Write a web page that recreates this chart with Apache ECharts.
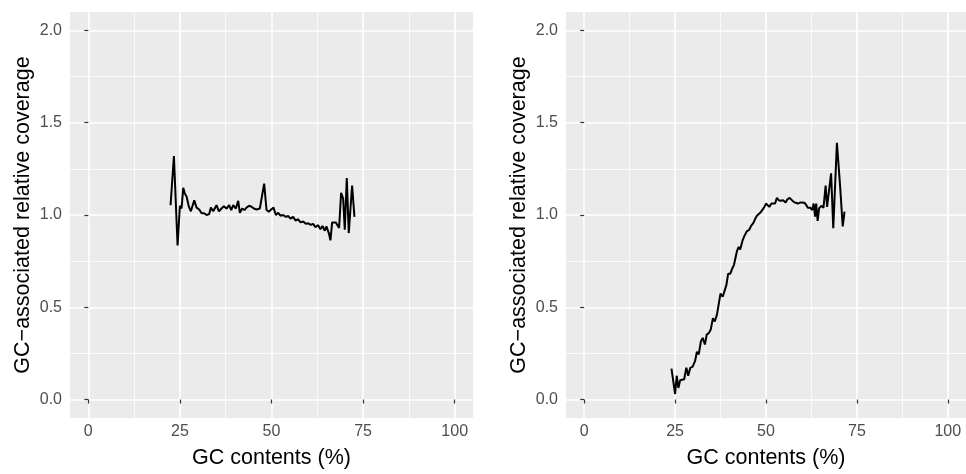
<!DOCTYPE html>
<html>
<head>
<meta charset="utf-8">
<script src="https://cdn.jsdelivr.net/npm/echarts@6/dist/echarts.min.js"></script>
<style>
html,body{margin:0;padding:0;background:#fff;}
#chart{width:966px;height:474px;}
</style>
</head>
<body>
<div id="chart"></div>
<script>
// ---- data ----
const xTicks = [0, 25, 50, 75, 100];
const xMinorTicks = [12.5, 37.5, 62.5, 87.5];
const yTicks = [0, 0.5, 1.0, 1.5, 2.0];
const yMinorTicks = [0.25, 0.75, 1.25, 1.75];

const leftGC = [22.45,23.36,24.36,25.0,25.45,25.91,26.36,26.82,27.45,28.0,28.91,29.55,30.27,30.91,31.55,32.27,33.0,33.45,34.09,35.0,35.64,36.36,37.0,37.73,38.45,39.0,39.55,40.27,40.91,41.36,42.0,42.64,43.18,43.91,44.55,45.18,45.91,46.82,47.36,48.0,48.64,49.27,49.91,50.55,51.18,51.82,52.45,53.18,53.91,54.55,55.18,55.91,56.55,57.27,57.91,58.64,59.36,60.0,60.73,61.36,62.0,62.73,63.36,63.91,64.55,65.0,65.64,66.09,66.55,67.09,67.55,68.0,68.45,69.0,69.55,70.0,70.55,71.09,72.0,72.64];
const leftCov = [1.053,1.32,0.835,1.05,1.035,1.147,1.115,1.10,1.045,1.02,1.08,1.04,1.03,1.01,1.01,1.0,1.005,1.04,1.02,1.053,1.02,1.035,1.048,1.035,1.053,1.027,1.053,1.035,1.077,1.012,1.035,1.027,1.04,1.05,1.045,1.035,1.03,1.035,1.045,1.17,1.027,1.018,1.03,1.04,1.0,1.012,0.996,1.0,0.99,0.995,0.98,0.99,0.97,0.977,0.96,0.965,0.952,0.955,0.946,0.952,0.934,0.945,0.923,0.94,0.915,0.938,0.902,0.863,0.96,0.965,0.96,0.965,0.93,1.12,1.09,0.92,1.20,0.902,1.16,0.99];

const rightGC = [24.0,24.5,25.0,25.45,25.9,26.4,26.9,27.5,28.1,28.6,29.2,29.8,30.5,31.0,31.5,32.1,32.6,33.2,33.7,34.3,34.8,35.4,35.9,36.5,37.0,37.5,38.1,38.5,39.1,39.6,40.2,40.7,41.2,42.0,42.5,42.9,43.5,44.0,44.7,45.4,45.9,46.5,47.1,47.5,47.9,48.4,48.8,49.5,50.0,50.5,50.9,51.5,52.0,52.5,53.0,53.5,54.1,54.7,55.4,55.9,56.5,57.0,57.6,58.2,58.8,59.5,60.0,60.6,61.1,61.5,62.2,62.7,63.1,63.5,63.8,64.2,64.6,65.2,65.8,66.4,66.8,67.3,67.9,68.5,69.5,70.4,71.1,71.6];
const rightCov = [0.168,0.10,0.03,0.129,0.063,0.105,0.10,0.11,0.173,0.129,0.173,0.177,0.209,0.259,0.245,0.316,0.334,0.298,0.352,0.361,0.379,0.441,0.423,0.459,0.468,0.575,0.557,0.548,0.62,0.682,0.682,0.709,0.73,0.804,0.827,0.813,0.858,0.884,0.911,0.92,0.941,0.956,0.982,0.996,0.991,1.012,1.009,1.041,1.062,1.066,1.044,1.062,1.066,1.062,1.093,1.08,1.077,1.08,1.068,1.085,1.093,1.089,1.071,1.066,1.062,1.068,1.062,1.066,1.053,1.039,1.039,1.027,1.062,0.991,1.062,0.968,1.036,1.05,1.039,1.16,1.044,1.041,1.226,0.929,1.391,1.151,0.938,1.018];

const xTitle = 'GC contents (%)';
const yTitle = 'GC\u2212associated relative coverage';

// ---- chart ----
const FONT = 'Liberation Sans, Arial, Helvetica, sans-serif';
const grids = [
  {left: 70, top: 12, width: 403, height: 412},
  {left: 566, top: 12, width: 404, height: 412}
];

function zip(a, b) { return a.map((v, i) => [v, b[i]]); }

const xAxes = [], yAxes = [], series = [];
grids.forEach((g, gi) => {
  xAxes.push({
    type: 'value', gridIndex: gi, min: -5, max: 105,
    name: xTitle, nameLocation: 'middle', nameGap: 29,
    nameTextStyle: {color: '#000', fontSize: 21.5, fontFamily: FONT},
    axisLine: {show: false},
    axisTick: {show: true, length: 4, lineStyle: {color: '#333', width: 1.2}, customValues: xTicks},
    axisLabel: {show: true, margin: 6, color: '#4D4D4D', fontSize: 16, fontFamily: FONT, customValues: xTicks, formatter: v => String(v)},
    splitLine: {show: true, lineStyle: {color: '#fff', width: 1.6}}
  });
  xAxes.push({
    type: 'value', gridIndex: gi, min: -5, max: 105,
    axisLine: {show: false},
    axisTick: {show: false, customValues: xMinorTicks},
    axisLabel: {show: false, customValues: xMinorTicks},
    splitLine: {show: true, lineStyle: {color: '#fff', width: 0.8}}
  });
  yAxes.push({
    type: 'value', gridIndex: gi, min: -0.1, max: 2.1,
    name: yTitle, nameLocation: 'middle', nameGap: 36,
    nameTextStyle: {color: '#000', fontSize: 21.5, fontFamily: FONT},
    axisLine: {show: false},
    axisTick: {show: true, length: 4, lineStyle: {color: '#333', width: 1.2}, customValues: yTicks},
    axisLabel: {show: true, margin: 8, color: '#4D4D4D', fontSize: 16, fontFamily: FONT, customValues: yTicks, formatter: v => v.toFixed(1)},
    splitLine: {show: true, lineStyle: {color: '#fff', width: 1.6}}
  });
  yAxes.push({
    type: 'value', gridIndex: gi, min: -0.1, max: 2.1,
    axisLine: {show: false},
    axisTick: {show: false, customValues: yMinorTicks},
    axisLabel: {show: false, customValues: yMinorTicks},
    splitLine: {show: true, lineStyle: {color: '#fff', width: 0.8}}
  });
});

series.push({
  type: 'line', xAxisIndex: 0, yAxisIndex: 0,
  data: zip(leftGC, leftCov), showSymbol: false, symbol: 'none',
  lineStyle: {color: '#000', width: 2}, z: 5
});
series.push({
  type: 'line', xAxisIndex: 2, yAxisIndex: 2,
  data: zip(rightGC, rightCov), showSymbol: false, symbol: 'none',
  lineStyle: {color: '#000', width: 2}, z: 5
});

const chart = echarts.init(document.getElementById('chart'), null, {renderer: 'canvas'});
chart.setOption({
  animation: false,
  backgroundColor: '#fff',
  grid: grids.map(g => Object.assign({show: true, backgroundColor: '#EBEBEB', borderWidth: 0, containLabel: false}, g)),
  xAxis: xAxes,
  yAxis: yAxes,
  series: series
});
</script>
</body>
</html>
